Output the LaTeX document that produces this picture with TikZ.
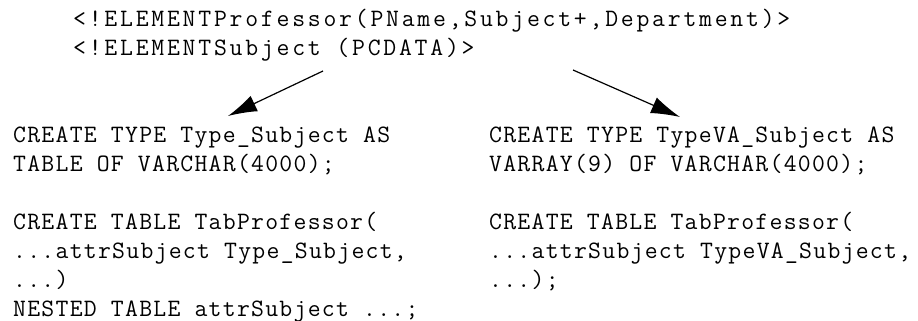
\documentclass[tikz,border=0pt]{standalone}
\usepackage{fontspec}
\setmonofont{Latin Modern Mono}
\usepackage{tikz}
\usetikzlibrary{arrows.meta,positioning}

\tikzset{
  code/.style={inner sep=0pt, anchor=base west, align=left,
    font=\ttfamily\fontsize{25}{29}\selectfont\addfontfeature{LetterSpace=5.1}},
  dtd/.style={code, font=\ttfamily\fontsize{25}{29}\selectfont\addfontfeature{LetterSpace=11.1}},
  maps/.style={line width=1.2pt, -{Latex[length=29pt,width=17pt]}},
}

\begin{document}
\begin{tikzpicture}[x=1pt,y=1pt]
    \useasboundingbox (0,0) rectangle (918,321);

    % DTD declarations (placed by the baseline of the last line)
    \node[dtd] (dtd) at (73,265) {<!ELEMENTProfessor(PName,Subject+,Department)>\\
      <!ELEMENTSubject (PCDATA)>};

    % nested table mapping
    \node[code] (nested) at (13,4) {CREATE TYPE Type\_Subject AS\\
      TABLE OF VARCHAR(4000);\\[29pt]
      CREATE TABLE TabProfessor(\\
      ...attrSubject Type\_Subject,\\
      ...)\\
      NESTED TABLE attrSubject ...;};

    % varray mapping
    \node[code] (varray) at (489,33) {CREATE TYPE TypeVA\_Subject AS\\
      VARRAY(9) OF VARCHAR(4000);\\[29pt]
      CREATE TABLE TabProfessor(\\
      ...attrSubject TypeVA\_Subject,\\
      ...);};

    \coordinate (fromL) at (323,250);
    \coordinate (toL) at (228,205);
    \coordinate (fromR) at (573,251);
    \coordinate (toR) at (680,204);
    \draw[maps] (fromL) -- (toL);
    \draw[maps] (fromR) -- (toR);
\end{tikzpicture}
\end{document}
